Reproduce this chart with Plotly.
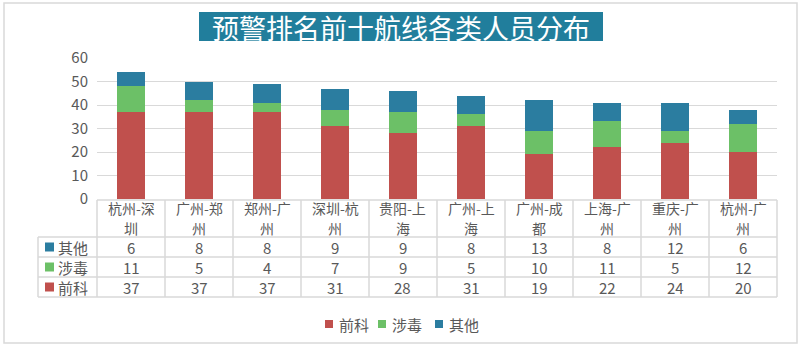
import plotly.graph_objects as go

categories = ["杭州-深圳", "广州-郑州", "郑州-广州", "深圳-杭州", "贵阳-上海",
              "广州-上海", "广州-成都", "上海-广州", "重庆-广州", "杭州-广州"]
series_names = ["前科", "涉毒", "其他"]
qianke = [37, 37, 37, 31, 28, 31, 19, 22, 24, 20]
shedu = [11, 5, 4, 7, 9, 5, 10, 11, 5, 12]
qita = [6, 8, 8, 9, 9, 8, 13, 8, 12, 6]
y_ticks = [0, 10, 20, 30, 40, 50, 60]
title_text = "预警排名前十航线各类人员分布"

colors = {"前科": "#C0504D", "涉毒": "#6CC067", "其他": "#2B7DA0"}
values = {"前科": qianke, "涉毒": shedu, "其他": qita}

W, H = 802, 347
FONT = "Noto Sans CJK SC"
GRAY = "#595959"
BORDER = "#D9D9D9"

# pixel layout
PX0, PX1 = 97, 777      # plot x
PY_TOP, PY_BOT = 58, 199  # y=60, y=0

def fx(px):
    return px / W

def fy(py):
    return 1 - py / H

fig = go.Figure()
for name in series_names:
    fig.add_trace(go.Bar(
        x=categories, y=values[name], name=name,
        marker=dict(color=colors[name], line=dict(width=0)),
        hoverinfo="x+y+name", showlegend=False,
    ))

shapes = []
annotations = []

# outer border
shapes.append(dict(type="rect", xref="paper", yref="paper",
                   x0=fx(4), x1=fx(797), y0=fy(343), y1=fy(3),
                   line=dict(color=BORDER, width=1.5), fillcolor="rgba(0,0,0,0)", layer="below"))
# title box
shapes.append(dict(type="rect", xref="paper", yref="paper",
                   x0=fx(199), x1=fx(603), y0=fy(41), y1=fy(12),
                   line=dict(width=0), fillcolor="#217E9C", layer="below"))
annotations.append(dict(text=title_text, xref="paper", yref="paper",
                        x=fx(401), y=fy(27), showarrow=False, xanchor="center", yanchor="middle",
                        font=dict(family=FONT, size=27, color="white"), borderpad=0))

# table geometry
n = len(categories)
colw = (PX1 - PX0) / n
row_edges = [PY_BOT + 1, 237, 257, 277, 297]
LBL_X0 = 38

# horizontal lines
shapes.append(dict(type="line", xref="paper", yref="paper", x0=fx(PX0), x1=fx(PX1),
                   y0=fy(row_edges[0]), y1=fy(row_edges[0]), line=dict(color=BORDER, width=1.5)))
for ry in row_edges[1:]:
    shapes.append(dict(type="line", xref="paper", yref="paper", x0=fx(LBL_X0), x1=fx(PX1),
                       y0=fy(ry), y1=fy(ry), line=dict(color=BORDER, width=1.5)))
# vertical lines
for i in range(n + 1):
    xp = PX0 + i * colw
    shapes.append(dict(type="line", xref="paper", yref="paper", x0=fx(xp), x1=fx(xp),
                       y0=fy(row_edges[0]), y1=fy(row_edges[-1]), line=dict(color=BORDER, width=1.5)))
shapes.append(dict(type="line", xref="paper", yref="paper", x0=fx(LBL_X0), x1=fx(LBL_X0),
                   y0=fy(row_edges[1]), y1=fy(row_edges[-1]), line=dict(color=BORDER, width=1.5)))

# header texts (wrapped after 4 characters like the original), one annotation per line
for i, c in enumerate(categories):
    line1, line2 = c[:4], c[4:]
    xc = fx(PX0 + (i + 0.5) * colw)
    for txt, ypx in ((line1, 208), (line2, 228)):
        annotations.append(dict(text=txt, xref="paper", yref="paper",
                                x=xc, y=fy(ypx), showarrow=False, xanchor="center", yanchor="middle",
                                font=dict(family=FONT, size=14, color=GRAY), borderpad=0))

# data rows: 其他, 涉毒, 前科
row_order = ["其他", "涉毒", "前科"]
for r, name in enumerate(row_order):
    yc = (row_edges[r + 1] + row_edges[r + 2]) / 2
    shapes.append(dict(type="rect", xref="paper", yref="paper",
                       x0=fx(45), x1=fx(54), y0=fy(yc + 4.5), y1=fy(yc - 4.5),
                       line=dict(width=0), fillcolor=colors[name]))
    annotations.append(dict(text=name, xref="paper", yref="paper", x=fx(57), y=fy(yc),
                            showarrow=False, xanchor="left", yanchor="middle",
                            font=dict(family=FONT, size=15, color=GRAY), borderpad=0))
    for i, v in enumerate(values[name]):
        annotations.append(dict(text=str(v), xref="paper", yref="paper",
                                x=fx(PX0 + (i + 0.5) * colw), y=fy(yc),
                                showarrow=False, xanchor="center", yanchor="middle",
                                font=dict(family=FONT, size=15, color=GRAY), borderpad=0))

# bottom legend (drawn manually)
legend_x = {"前科": 325, "涉毒": 378, "其他": 435}
LEG_Y = 324
for name in series_names:
    x0 = legend_x[name]
    shapes.append(dict(type="rect", xref="paper", yref="paper",
                       x0=fx(x0), x1=fx(x0 + 8), y0=fy(LEG_Y + 4), y1=fy(LEG_Y - 4),
                       line=dict(width=0), fillcolor=colors[name]))
    annotations.append(dict(text=name, xref="paper", yref="paper", x=fx(x0 + 13), y=fy(LEG_Y),
                            showarrow=False, xanchor="left", yanchor="middle",
                            font=dict(family=FONT, size=15, color=GRAY), borderpad=0))

fig.update_layout(
    width=W, height=H,
    margin=dict(l=0, r=0, t=0, b=0, pad=0, autoexpand=False),
    paper_bgcolor="white", plot_bgcolor="white",
    barmode="stack", bargap=0.6,
    font=dict(family=FONT, color=GRAY),
    xaxis=dict(domain=[fx(PX0), fx(PX1)], showticklabels=False, showgrid=False,
               zeroline=False, showline=False, ticks="", fixedrange=True, automargin=False),
    yaxis=dict(domain=[fy(PY_BOT), fy(PY_TOP)], range=[0, 60], tickvals=y_ticks,
               showgrid=True, gridcolor=BORDER, gridwidth=1, zeroline=False, showline=False,
               ticks="", tickfont=dict(family=FONT, size=15, color=GRAY), ticklabelstandoff=8,
               automargin=False),
    shapes=shapes, annotations=annotations,
    showlegend=False,
)

fig.write_html("out.html")
